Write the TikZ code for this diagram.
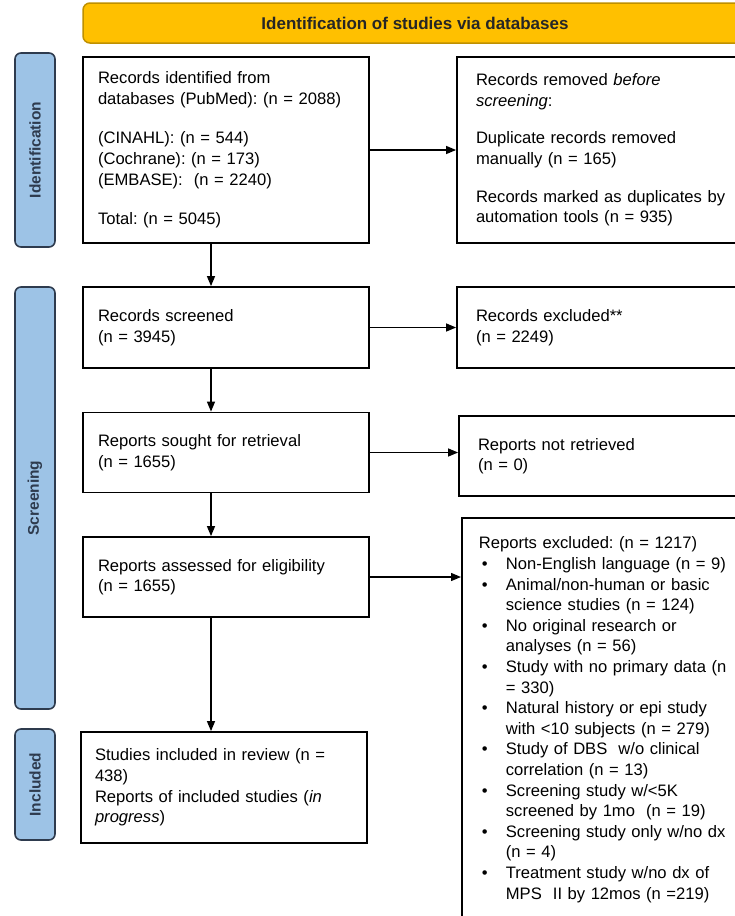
\documentclass[tikz,border=0pt]{standalone}
\usepackage{fontspec}
\setmainfont{Liberation Sans}
\usetikzlibrary{arrows.meta}
\definecolor{bannergold}{HTML}{FFC000}
\definecolor{bannerrim}{HTML}{BF9000}
\definecolor{stageblue}{HTML}{9DC3E6}
\definecolor{stagerim}{HTML}{2E3B4E}
\newcommand\exitem[1]{\makebox[27pt][l]{\hspace{3pt}\textbullet}#1}
\newcommand\exmore[1]{\hspace*{27pt}#1}
\frenchspacing

\begin{document}
\begin{tikzpicture}[x=1pt,y=-1pt,font=\fontsize{16.6}{20.6}\selectfont]
\tikzstyle{recbox}=[draw,line width=1.8pt,inner sep=0pt,align=left]
\tikzstyle{leftbox}=[recbox,minimum width=286,text width=256]
\tikzstyle{rightbox}=[recbox,minimum width=310,text width=272]
\tikzstyle{stage}=[draw=stagerim,fill=stageblue,line width=1.6pt,rounded corners=6pt,rotate=90,minimum height=40,text=stagerim,font=\fontsize{15.5}{18}\selectfont\bfseries]
\tikzstyle{flow}=[-{Triangle[length=10pt,width=8pt]},line width=1.3pt]
\useasboundingbox (0,0) rectangle (735,916);
\clip (0,0) rectangle (735,916);
% banner
\node[draw=bannerrim,fill=bannergold,line width=1.5pt,rounded corners=7pt,minimum width=664,minimum height=40,text=black!85,font=\fontsize{17}{20}\selectfont\bfseries] (banner) at (415,23) {Identification of studies via databases};
% phases
\node[stage,minimum width=194] (phid) at (35,150) {Identification};
\node[stage,minimum width=422] (phscr) at (35,498) {Screening};
\node[stage,minimum width=111] (phinc) at (35,784.5) {Included};
% left column
\node[leftbox,minimum height=186] (ident) at (226,150) {Records identified from\\databases (PubMed): (n = 2088)\\[19pt](CINAHL): (n = 544)\\(Cochrane): (n = 173)\\(EMBASE): \ (n = 2240)\\[19pt]Total: (n = 5045)};
\node[leftbox,minimum height=81] (screen) at (226,327.5) {Records screened\\(n = 3945)};
\node[leftbox,minimum height=80] (sought) at (226,452.5) {Reports sought for retrieval\\(n = 1655)};
\node[leftbox,minimum height=80] (assess) at (226,577) {Reports assessed for eligibility\\(n = 1655)};
\node[leftbox,minimum height=111,text width=258] (incl) at (224,787.5) {Studies included in review (n =\\438)\\Reports of included studies (\textit{in}\\\textit{progress})};
% right column
\node[rightbox,minimum height=186] (removed) at (612,150) {Records removed \textit{before}\\\textit{screening}:\\[17pt]Duplicate records removed\\manually (n = 165)\\[17pt]Records marked as duplicates by\\automation tools (n = 935)};
\node[rightbox,minimum height=81] (recexcl) at (612,327.5) {Records excluded**\\(n = 2249)};
\node[rightbox,minimum height=80] (notret) at (614,456) {Reports not retrieved\\(n = 0)};
\node[recbox,anchor=north west,text width=276,inner xsep=17pt,inner ysep=19pt] (repexcl) at (461,517) {Reports excluded: (n = 1217)\\
\exitem{Non-English language (n = 9)}\\
\exitem{Animal/non-human or basic}\\\exmore{science studies (n = 124)}\\
\exitem{No original research or}\\\exmore{analyses (n = 56)}\\
\exitem{Study with no primary data (n}\\\exmore{= 330)}\\
\exitem{Natural history or epi study}\\\exmore{with <10 subjects (n = 279)}\\
\exitem{Study of DBS \ w/o clinical}\\\exmore{correlation (n = 13)}\\
\exitem{Screening study w/<5K}\\\exmore{screened by 1mo \ (n = 19)}\\
\exitem{Screening study only w/no dx}\\\exmore{(n = 4)}\\
\exitem{Treatment study w/no dx of}\\\exmore{MPS \ II by 12mos (n =219)}};
% arrows
\draw[flow] ([xshift=-15]ident.south) -- ([xshift=-15]screen.north);
\draw[flow] ([xshift=-15]screen.south) -- ([xshift=-15]sought.north);
\draw[flow] ([xshift=-15]sought.south) -- ([xshift=-15]assess.north);
\draw[flow] ([xshift=-15]assess.south) -- ([xshift=-15]assess.south |- incl.north);
\draw[flow] (ident.east) -- (removed.west);
\draw[flow] (screen.east) -- (recexcl.west);
\draw[flow] (sought.east) -- (sought.east -| notret.west);
\draw[flow] (assess.east) -- (assess.east -| repexcl.west);
\end{tikzpicture}
\end{document}
